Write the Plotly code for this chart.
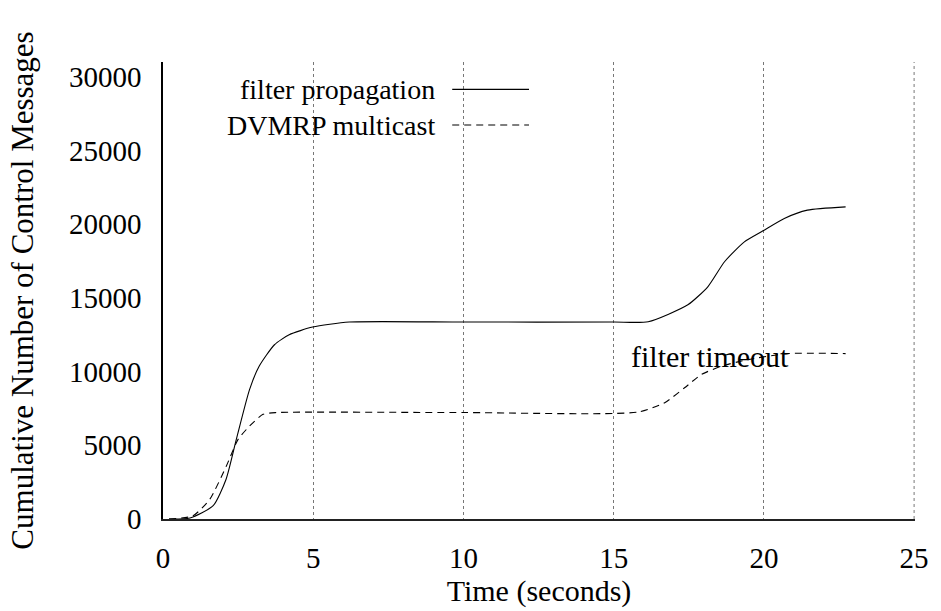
import plotly.graph_objects as go

# Data
fp_t = [0.2, 0.9, 1.67, 2.1, 2.44, 2.88, 3.2, 3.71, 4.2, 4.98, 6.2, 10.0, 15.0,
        16.15, 17.47, 18.14, 18.69, 19.35, 19.97, 20.68, 21.45, 22.72]
fp_y = [0, 70, 900, 2700, 5400, 8780, 10360, 11820, 12500, 13020, 13360, 13360, 13360,
        13380, 14530, 15770, 17450, 18800, 19550, 20390, 20950, 21170]

dv_t = [0.2, 1.0, 1.56, 2.11, 2.5, 2.88, 3.33, 3.77, 10.0, 15.8, 16.7, 17.36,
        17.92, 18.58, 19.46, 20.79, 22.72]
dv_y = [0, 220, 1350, 3600, 5400, 6300, 7100, 7220, 7220, 7250, 7890, 8900,
        9800, 10360, 10810, 11220, 11220]

x_ticks = [0, 5, 10, 15, 20, 25]
y_ticks = [0, 5000, 10000, 15000, 20000, 25000, 30000]
series_names = ["filter propagation", "DVMRP multicast"]
label_text = "filter timeout"

FONT = "Liberation Serif"
DASH = "7px,5px"
GRID = "#777777"

fig = go.Figure()
fig.add_trace(go.Scatter(x=fp_t, y=fp_y, mode="lines", name=series_names[0],
                         line=dict(color="black", width=1.1, shape="spline", smoothing=0.6)))
fig.add_trace(go.Scatter(x=dv_t, y=dv_y, mode="lines", name=series_names[1],
                         line=dict(color="black", width=1.1, dash=DASH, shape="spline", smoothing=0.6)))

# legend emulation (text left of sample, gnuplot style)
leg_y = [0.940, 0.862]
for name, yy, dash in zip(series_names, leg_y, ["solid", DASH]):
    fig.add_annotation(x=0.3634, y=yy, xref="paper", yref="paper", text=name,
                       showarrow=False, xanchor="right", yanchor="middle", borderpad=0,
                       font=dict(family=FONT, size=28, color="black"))
    fig.add_shape(type="line", xref="paper", yref="paper", x0=0.3846, x1=0.4867,
                  y0=yy, y1=yy, line=dict(color="black", width=1.1, dash=dash))

fig.add_annotation(x=20.9, y=11000, xref="x", yref="y", text=label_text,
                   showarrow=False, xanchor="right", yanchor="middle",
                   font=dict(family=FONT, size=30, color="black"))

# right-edge grid line at the last x tick (plotly drops grid lines on the plot edge)
fig.add_shape(type="line", xref="x", yref="paper", x0=x_ticks[-1], x1=x_ticks[-1],
              y0=0, y1=1, line=dict(color=GRID, width=1, dash="dot"), layer="below")

fig.update_layout(
    width=941, height=611,
    margin=dict(l=163, r=24, t=62, b=91),
    paper_bgcolor="white", plot_bgcolor="white",
    showlegend=False,
    font=dict(family=FONT, size=29, color="black"),
)
fig.update_xaxes(range=[0, 25.03], tickvals=x_ticks, ticktext=[str(v) for v in x_ticks],
                 showline=True, linecolor="#222222", linewidth=1.5, mirror=False,
                 showgrid=True, gridcolor=GRID, gridwidth=1, griddash="dot",
                 zeroline=False, ticks="", ticklabelstandoff=12,
                 title=dict(text="Time (seconds)", standoff=4,
                            font=dict(family=FONT, size=30)),
                 tickfont=dict(family=FONT, size=29))
fig.update_yaxes(range=[0, 31000], tickvals=y_ticks, ticktext=[str(v) for v in y_ticks],
                 showline=True, linecolor="black", linewidth=1.5,
                 showgrid=False, zeroline=False, ticks="", ticklabelstandoff=14,
                 title=dict(text="Cumulative Number of Control Messages", standoff=26,
                            font=dict(family=FONT, size=31)),
                 tickfont=dict(family=FONT, size=29))

fig.write_html("out.html")
